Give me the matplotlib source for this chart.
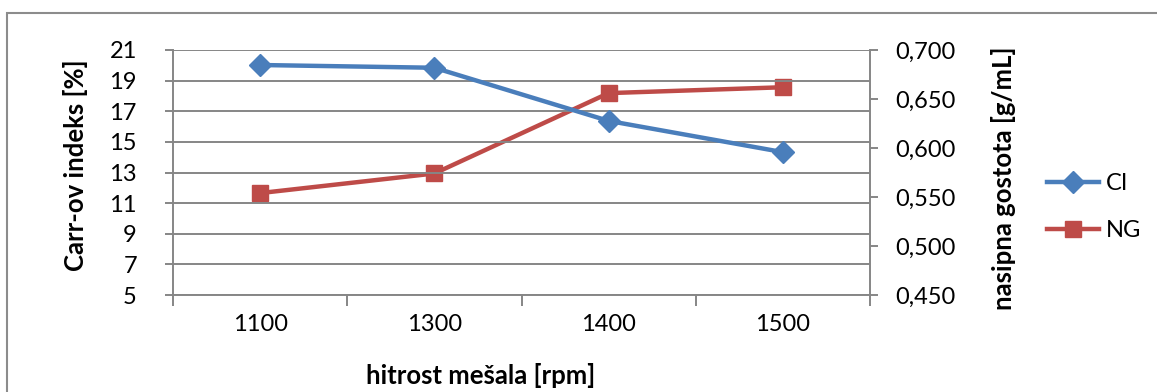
import matplotlib
matplotlib.use("Agg")
import matplotlib.pyplot as plt
from matplotlib.patches import Rectangle
from matplotlib.lines import Line2D
from matplotlib.ticker import FixedLocator, FuncFormatter

# Data
speeds = ["1100", "1300", "1400", "1500"]
carr_index = [20.02, 19.84, 16.37, 14.33]
bulk_density = [0.554, 0.574, 0.656, 0.662]

left_ticks = [5, 7, 9, 11, 13, 15, 17, 19, 21]
right_ticks = [0.450, 0.500, 0.550, 0.600, 0.650, 0.700]

BLUE = "#4A7EBB"
RED = "#BE4B48"
GRID = "#868686"

plt.rcParams["font.family"] = ["Lato", "DejaVu Sans"]

W, H = 1157, 392
fig = plt.figure(figsize=(W / 100, H / 100), dpi=100)

def fx(px):
    return px / W

def fy(py):
    return 1 - py / H

# chart area border
fig.patches.append(Rectangle((fx(6.5), fy(1000)), fx(2000), fy(13) - fy(1000),
                             transform=fig.transFigure, fill=False,
                             edgecolor="#8C8C8C", linewidth=1.5))

ax = fig.add_axes([fx(173), fy(295), fx(870) - fx(173), fy(50) - fy(295)])
ax2 = ax.twinx()

x = list(range(len(speeds)))
ax.set_xlim(-0.5, len(speeds) - 0.5)
ax.set_ylim(5, 21)
ax2.set_ylim(0.450, 0.700)

ax.yaxis.set_major_locator(FixedLocator(left_ticks))
ax.grid(axis="y", color=GRID, linewidth=1.4)
ax.set_axisbelow(True)
ax.set_xticks([i - 0.5 for i in range(len(speeds) + 1)])
ax.set_xticklabels([])
ax.set_xticks(x, minor=True)
ax.set_xticklabels(speeds, minor=True)

for a in (ax, ax2):
    a.spines["top"].set_visible(False)
    for s in a.spines.values():
        s.set_color(GRID)
        s.set_linewidth(1.4)
ax.spines["right"].set_visible(False)
ax2.spines["left"].set_visible(False)
ax2.spines["bottom"].set_visible(False)

ax.tick_params(axis="x", which="major", length=8, width=1.4, color=GRID, direction="out")
ax.tick_params(axis="x", which="minor", length=0, labelsize=17, pad=14)
ax.tick_params(axis="y", length=6, width=1.4, color=GRID, labelsize=17, pad=20)
ax2.yaxis.set_major_locator(FixedLocator(right_ticks))
ax2.yaxis.set_major_formatter(FuncFormatter(lambda v, p: f"{v:.3f}".replace(".", ",")))
ax2.tick_params(axis="y", length=6, width=1.4, color=GRID, labelsize=17, pad=12)

ax.plot(x, carr_index, color=BLUE, linewidth=3.2, marker="D", markersize=11,
        markeredgecolor=BLUE, markerfacecolor=BLUE, zorder=3, clip_on=False)
ax2.plot(x, bulk_density, color=RED, linewidth=3.2, marker="s", markersize=12,
         markeredgecolor=RED, markerfacecolor=RED, zorder=3, clip_on=False)

ax2.set_zorder(ax.get_zorder() - 1)
ax.set_zorder(ax2.get_zorder() + 1)
ax.patch.set_visible(False)

fig.text(fx(75), fy(165), "Carr-ov indeks [%]", rotation=90, ha="center", va="center",
         fontsize=18.5, fontweight="bold")
fig.text(fx(1004), fy(178), "nasipna gostota [g/mL]", rotation=90, ha="center", va="center",
         fontsize=18.5, fontweight="bold")
fig.text(fx(481), fy(376), "hitrost mešala [rpm]", ha="center", va="center",
         fontsize=18.5, fontweight="bold")

handles = [
    Line2D([0], [0], color=BLUE, linewidth=3.2, marker="D", markersize=11),
    Line2D([0], [0], color=RED, linewidth=3.2, marker="s", markersize=12),
]
fig.legend(handles, ["CI", "NG"], loc="center left", bbox_to_anchor=(fx(1047), fy(207)),
           frameon=False, fontsize=17, handlelength=2.2, handletextpad=0.3,
           labelspacing=1.1, borderaxespad=0, borderpad=0)

fig.savefig("out.png", dpi=100)
